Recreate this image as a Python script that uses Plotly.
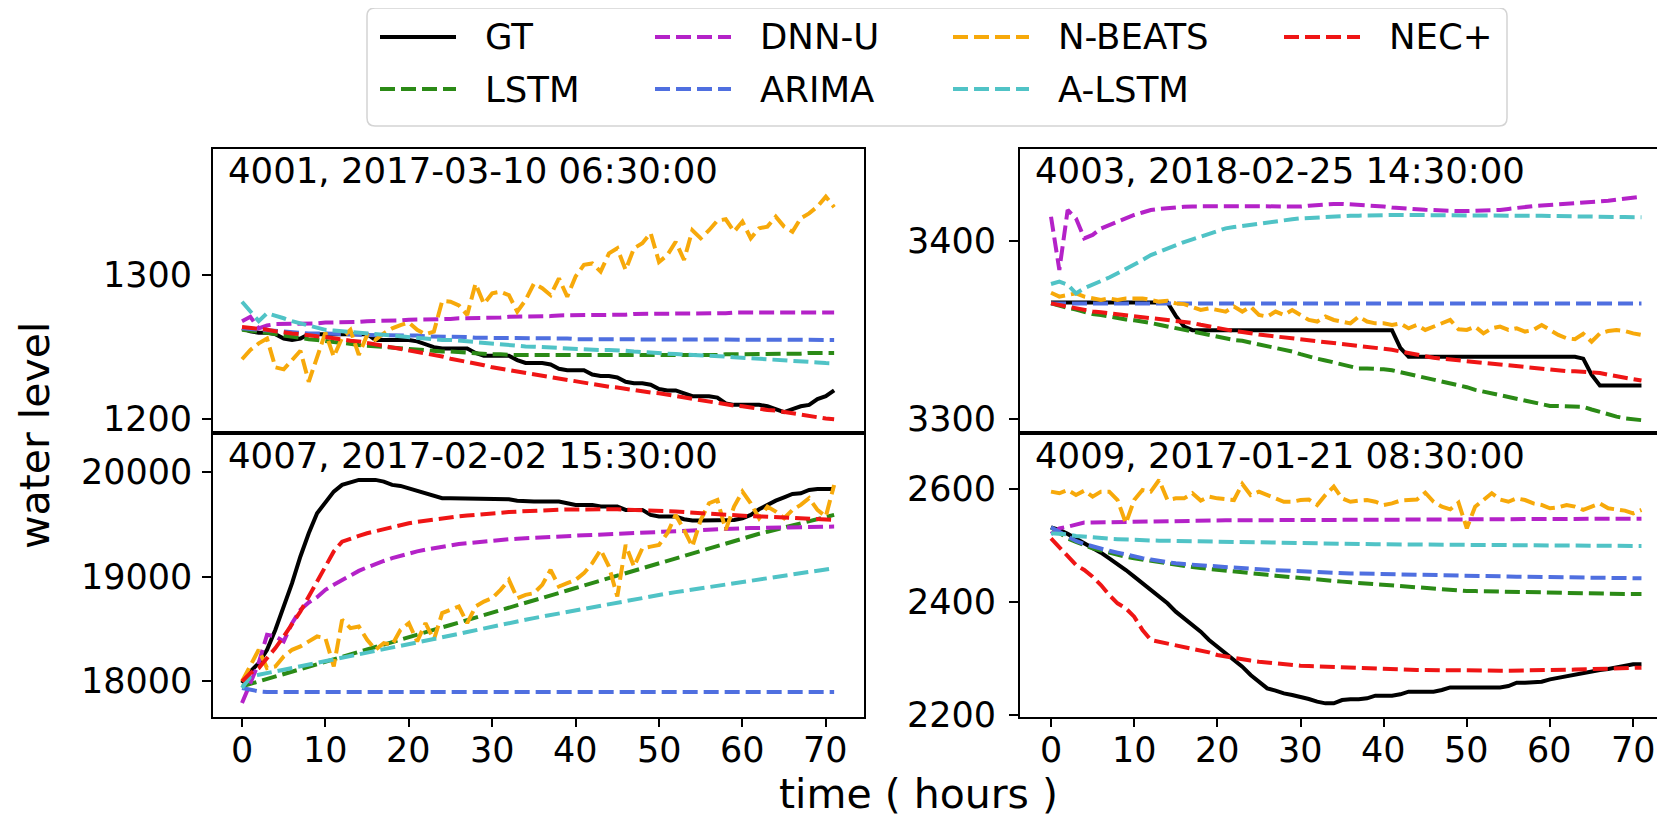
import plotly.graph_objects as go

W, H = 1665, 819
OFF = 8  # the page body adds an 8px margin; compensate so picture coords match
FW, FH = W - OFF, H - OFF

HOURS = list(range(72))
XTICKS = [0, 10, 20, 30, 40, 50, 60, 70]

SERIES = ["GT", "LSTM", "DNN-U", "ARIMA", "N-BEATS", "A-LSTM", "NEC+"]
COLORS = ["#000000", "#2b8a16", "#b422c8", "#4f6fe0", "#f7a90a", "#50c3c6", "#ef1515"]
DASHES = ["solid", "15px,6px", "15px,6px", "15px,6px", "15px,6px", "15px,6px", "15px,6px"]

TITLES = ["4001, 2017-03-10 06:30:00", "4003, 2018-02-25 14:30:00",
          "4007, 2017-02-02 15:30:00", "4009, 2017-01-21 08:30:00"]

YTICKS_4001 = [1200, 1300]
YTICKS_4003 = [3300, 3400]
YTICKS_4007 = [18000, 19000, 20000]
YTICKS_4009 = [2200, 2400, 2600]

# ---------------- station 4001 ----------------
GT_4001 = [1263, 1261, 1260, 1260, 1259, 1256, 1255, 1256, 1259, 1259,
           1259, 1259, 1259, 1259, 1259, 1259, 1255, 1255, 1255, 1255,
           1255, 1254, 1252, 1250, 1249, 1249, 1249, 1249, 1246, 1244,
           1244, 1244, 1244, 1241, 1239, 1239, 1239, 1238, 1235, 1234,
           1234, 1234, 1231, 1230, 1230, 1229, 1226, 1225, 1225, 1224,
           1221, 1220, 1220, 1218, 1216, 1216, 1216, 1215, 1211, 1210,
           1210, 1210, 1210, 1209, 1207, 1205, 1207, 1209, 1210, 1214,
           1216, 1220]
LSTM_4001 = [1262, 1261.5, 1260.5, 1260, 1259, 1258, 1257, 1256.5, 1255.5, 1255,
             1254, 1253.5, 1253, 1252, 1251.5, 1251, 1250.5, 1250, 1249.5, 1249,
             1249, 1248.5, 1248, 1247.5, 1247, 1247, 1246.5, 1246, 1245.5, 1245,
             1245, 1245, 1244.5, 1244.5, 1244.5, 1244.5, 1244, 1244, 1244, 1244,
             1244, 1244, 1244, 1244, 1244, 1244, 1244, 1244, 1244, 1244,
             1244, 1244, 1244, 1244.5, 1244.5, 1244.5, 1244.5, 1244.5, 1245, 1245,
             1245, 1245, 1245, 1245.5, 1245.5, 1245.5, 1245.5, 1245.5, 1246, 1246,
             1246, 1246]
DNNU_4001 = [1268, 1271, 1263, 1265, 1266, 1266, 1266, 1266.5, 1266.5, 1266.5,
             1267, 1267, 1267, 1267.5, 1267.5, 1268, 1268, 1268, 1268.5, 1268.5,
             1269, 1269, 1269, 1269.5, 1269.5, 1269.5, 1270, 1270, 1270, 1270.5,
             1270.5, 1270.5, 1271, 1271, 1271, 1271.5, 1271.5, 1271.5, 1272, 1272,
             1272, 1272, 1272, 1272.5, 1272.5, 1272.5, 1272.5, 1273, 1273, 1273,
             1273, 1273, 1273, 1273.5, 1273.5, 1273.5, 1273.5, 1273.5, 1273.5, 1274,
             1274, 1274, 1274, 1274, 1274, 1274, 1274, 1274, 1274, 1274,
             1274, 1274]
ARIMA_4001 = [1263, 1262.5, 1262, 1261.5, 1261, 1260.5, 1260, 1260, 1259.5, 1259.5,
              1259.5, 1259, 1259, 1259, 1258.5, 1258.5, 1258.5, 1258.5, 1258, 1258,
              1258, 1258, 1257.5, 1257.5, 1257, 1257, 1257, 1257, 1256.5, 1256.5,
              1256.5, 1256.5, 1256.5, 1256, 1256, 1256, 1256, 1256, 1256, 1256,
              1255.5, 1255.5, 1255.5, 1255.5, 1255.5, 1255.5, 1255.5, 1255.5, 1255.5, 1255.5,
              1255, 1255, 1255, 1255, 1255, 1255, 1255, 1255, 1255, 1255,
              1255, 1255, 1255, 1255, 1255, 1255, 1255, 1255, 1255, 1255,
              1255, 1255]
NBEATS_4001 = [1241.6, 1248, 1252.6, 1256, 1236, 1234.6, 1241, 1247.5, 1226, 1243.4,
               1260, 1243.4, 1256.5, 1262, 1244.6, 1258.5, 1255, 1259.6, 1263, 1265.3,
               1267, 1262, 1259, 1260.7, 1282, 1281.5, 1279, 1272.3, 1294, 1280,
               1287.3, 1288.4, 1286, 1274.6, 1282.6, 1294, 1290.8, 1286, 1297.7, 1285,
               1299, 1307, 1308, 1302.3, 1315, 1318.5, 1303.5, 1318.5, 1322, 1329,
               1309, 1313.8, 1323, 1310.4, 1331, 1325.4, 1331, 1337.7, 1338.6, 1330,
               1337, 1325.4, 1332.4, 1333.5, 1340.4, 1333.5, 1330, 1339.3, 1342.7, 1347.4,
               1354.3, 1347]
ALSTM_4001 = [1281.5, 1274.5, 1268, 1273.5, 1272, 1270, 1268, 1266.5, 1265, 1263.5,
              1262, 1261.5, 1261, 1260.5, 1259.5, 1259, 1258.5, 1258, 1257.5, 1257,
              1256.5, 1256, 1256, 1255.5, 1255, 1255, 1254.5, 1254, 1253, 1252.5,
              1252, 1251.5, 1251, 1250.5, 1250.5, 1250.3, 1250, 1249.5, 1249, 1248.8,
              1248.5, 1248.3, 1248, 1248, 1248, 1248, 1247.5, 1247, 1246.5, 1246,
              1245.8, 1245.5, 1245.2, 1245, 1244.8, 1244.6, 1244.2, 1244, 1243.5, 1243,
              1242.7, 1242.3, 1242, 1241.7, 1241.3, 1241, 1240.6, 1240.2, 1239.8, 1239.4,
              1239, 1238.8]
NEC_4001 = [1264, 1263.5, 1263, 1262, 1261, 1260, 1259.5, 1259, 1258, 1257.5,
            1257, 1256, 1255.5, 1254.5, 1254, 1253, 1252, 1251, 1250, 1249,
            1248, 1247, 1246, 1245, 1243.5, 1242, 1241, 1240, 1239, 1237.5,
            1236, 1235, 1234, 1233, 1232, 1231, 1230, 1229, 1228, 1227,
            1226, 1225, 1224, 1223, 1222.5, 1222, 1221, 1220, 1219, 1218.5,
            1218, 1217, 1216, 1215, 1214, 1213, 1212, 1211, 1210, 1209.5,
            1209, 1208, 1207, 1206.5, 1206, 1205, 1204, 1203, 1202, 1201,
            1200.5, 1200]

# ---------------- station 4003 ----------------
GT_4003 = [3365.5, 3365.5, 3365.5, 3365.5, 3365.5, 3365.5, 3365.5, 3365.5, 3365.5, 3365.5,
           3365.5, 3365.5, 3365.5, 3365.5, 3365.5, 3358, 3352, 3350, 3350, 3350,
           3350, 3350, 3350, 3350, 3350, 3350, 3350, 3350, 3350, 3350,
           3350, 3350, 3350, 3350, 3350, 3350, 3350, 3350, 3350, 3350,
           3350, 3350, 3340, 3335, 3335, 3335, 3335, 3335, 3335, 3335,
           3335, 3335, 3335, 3335, 3335, 3335, 3335, 3335, 3335, 3335,
           3335, 3335, 3335, 3335, 3334, 3325, 3319, 3319, 3319, 3319,
           3319, 3319]
LSTM_4003 = [3365, 3363.5, 3362.5, 3361.5, 3360, 3359, 3358.5, 3357.5, 3357, 3356,
             3355.5, 3355, 3354, 3353, 3352, 3351, 3350, 3349, 3348, 3347,
             3346, 3345, 3344.5, 3344, 3343, 3342, 3341.5, 3340.5, 3339, 3338,
             3336.5, 3335, 3334, 3333, 3332, 3330.5, 3329.5, 3328.5, 3328.5, 3328.5,
             3328, 3327.5, 3326.5, 3325.5, 3324.5, 3323.5, 3322.5, 3321, 3320, 3319,
             3318, 3316.5, 3315.5, 3314.5, 3313, 3312, 3311, 3310, 3309, 3308,
             3307.5, 3307.5, 3307.5, 3307.5, 3307, 3305.5, 3304, 3302.5, 3301.5, 3300.5,
             3300, 3299.5]
DNNU_4003 = [3413.6, 3383.7, 3417.4, 3412.7, 3401.5, 3403.4, 3407, 3409, 3410.8, 3413,
             3414.6, 3416, 3417.4, 3418, 3418.5, 3418.9, 3419.2, 3419.4, 3419.5, 3419.6,
             3419.6, 3419.6, 3419.6, 3419.5, 3419.5, 3419.4, 3419.4, 3419.3, 3419.3, 3419.3,
             3419.3, 3419.8, 3420.3, 3420.8, 3420.8, 3420.8, 3420.6, 3420.5, 3420.2, 3420,
             3419.4, 3418.8, 3418.3, 3418, 3417.8, 3417.5, 3417.2, 3417, 3416.8, 3416.8,
             3416.8, 3416.9, 3417, 3417.2, 3417.4, 3418, 3418.6, 3419.3, 3419.6, 3419.9,
             3420.2, 3420.5, 3420.8, 3421.2, 3421.5, 3421.9, 3422.2, 3422.6, 3423.2, 3423.8,
             3424.3, 3424.9]
ARIMA_4003 = [3365, 3365, 3365, 3365, 3365, 3365, 3365, 3365, 3365, 3365,
              3365, 3365, 3365, 3365, 3365, 3365, 3365, 3365, 3365, 3365,
              3365, 3365, 3365, 3365, 3365, 3365, 3365, 3365, 3365, 3365,
              3365, 3365, 3365, 3365, 3365, 3365, 3365, 3365, 3365, 3365,
              3365, 3365, 3365, 3365, 3365, 3365, 3365, 3365, 3365, 3365,
              3365, 3365, 3365, 3365, 3365, 3365, 3365, 3365, 3365, 3365,
              3365, 3365, 3365, 3365, 3365, 3365, 3365, 3365, 3365, 3365,
              3365, 3365]
NBEATS_4003 = [3371, 3368.8, 3369.7, 3370.6, 3368.8, 3367.8, 3366.9, 3367.8, 3366.9, 3367.8,
               3367.8, 3367.8, 3366.9, 3366, 3366.5, 3365, 3364.6, 3363.2, 3361.3, 3362.2,
               3361.3, 3360.4, 3363.2, 3360.4, 3363.2, 3358.5, 3357.6, 3360.4, 3358.5, 3361.3,
               3358.5, 3355.7, 3354.8, 3357.6, 3355.7, 3354.8, 3353.8, 3357.6, 3354.8, 3353.8,
               3353.8, 3352.9, 3353.8, 3351, 3352.9, 3350.1, 3352, 3354.2, 3355.7, 3350.5,
               3350.1, 3352, 3348.2, 3351, 3352, 3350.1, 3351, 3349.2, 3350.1, 3352.9,
               3350.1, 3347.3, 3345.4, 3344.9, 3347.9, 3343.5, 3348.2, 3349.5, 3350.1, 3349.5,
               3348.2, 3347.3]
ALSTM_4003 = [3375.9, 3377.2, 3375.5, 3370.6, 3373.5, 3375.4, 3377.2, 3379.5, 3381.9, 3384.2,
              3386.5, 3389.3, 3392.1, 3394, 3396, 3397.8, 3399.4, 3400.9, 3402.4, 3404,
              3405.5, 3407.1, 3407.8, 3408.5, 3409.2, 3409.9, 3410.5, 3411.1, 3411.6, 3412.2,
              3412.7, 3413, 3413.3, 3413.5, 3413.8, 3414, 3414.1, 3414.2, 3414.4, 3414.5,
              3414.6, 3414.6, 3414.6, 3414.6, 3414.6, 3414.6, 3414.6, 3414.6, 3414.6, 3414.6,
              3414.6, 3414.5, 3414.5, 3414.4, 3414.4, 3414.3, 3414.2, 3414.2, 3414.1, 3414.1,
              3414, 3414, 3413.9, 3413.9, 3413.8, 3413.7, 3413.7, 3413.6, 3413.5, 3413.4,
              3413.4, 3413.3]
NEC_4003 = [3365, 3364, 3363, 3362.5, 3361.5, 3360.5, 3360, 3359.5, 3359, 3358.5,
            3358, 3357.5, 3357, 3356, 3355.5, 3355, 3354.5, 3354, 3353, 3352,
            3351, 3350, 3349.5, 3349, 3348, 3347.5, 3347, 3346.5, 3346, 3345.5,
            3345, 3344.5, 3344, 3343.5, 3343, 3342.5, 3342, 3341.5, 3341, 3340,
            3339.5, 3339, 3338, 3337, 3336, 3335, 3334.5, 3334, 3333.5, 3333,
            3332.5, 3332, 3331.5, 3331, 3330.5, 3330, 3329.5, 3329, 3328.5, 3328,
            3327.5, 3327.5, 3327, 3327, 3326.7, 3326.5, 3326, 3325, 3324, 3323,
            3322.5, 3321.7]

# ---------------- station 4007 ----------------
GT_4007 = [17977, 18089, 18169, 18297, 18489, 18712, 18936, 19192, 19415, 19607,
           19719, 19815, 19879, 19904, 19927, 19927, 19927, 19911, 19879, 19869,
           19847, 19821, 19799, 19773, 19751, 19751, 19750, 19749, 19748, 19747,
           19745, 19743, 19741, 19728, 19719, 19719, 19719, 19719, 19719, 19703,
           19687, 19687, 19687, 19671, 19671, 19671, 19639, 19639, 19639, 19591,
           19575, 19575, 19575, 19550, 19537, 19537, 19537, 19537, 19537, 19543,
           19559, 19591, 19645, 19687, 19728, 19760, 19792, 19799, 19831, 19840,
           19840, 19840]
LSTM_4007 = [17946, 17970, 17993, 18017, 18040, 18063, 18087, 18110, 18133, 18157,
             18180, 18204, 18228, 18252, 18276, 18300, 18324, 18348, 18372, 18396,
             18420, 18443, 18466, 18489, 18512, 18535, 18558, 18581, 18604, 18627,
             18650, 18674, 18698, 18722, 18746, 18770, 18794, 18818, 18842, 18866,
             18890, 18914, 18938, 18962, 18986, 19010, 19034, 19058, 19082, 19106,
             19130, 19154, 19178, 19202, 19226, 19250, 19274, 19298, 19322, 19346,
             19370, 19390, 19410, 19430, 19450, 19470, 19490, 19510, 19530, 19550,
             19570, 19591]
DNNU_4007 = [17786, 17977, 18169, 18441, 18425, 18377, 18553, 18680, 18751, 18802,
             18872, 18920, 18968, 19011, 19054, 19088, 19121, 19149, 19176, 19200,
             19224, 19241, 19257, 19273, 19288, 19303, 19312, 19320, 19329, 19337,
             19345, 19351, 19357, 19363, 19368, 19374, 19378, 19382, 19386, 19390,
             19393, 19396, 19399, 19403, 19406, 19409, 19412, 19414, 19417, 19419,
             19422, 19427, 19432, 19437, 19442, 19447, 19450, 19453, 19457, 19460,
             19463, 19465, 19467, 19469, 19471, 19473, 19474, 19475, 19476, 19477,
             19478, 19479]
ARIMA_4007 = [17930, 17914, 17898, 17892, 17891, 17891, 17891, 17891, 17891, 17891,
              17891, 17891, 17891, 17891, 17891, 17891, 17891, 17891, 17891, 17891,
              17891, 17891, 17891, 17891, 17891, 17891, 17891, 17891, 17891, 17891,
              17891, 17891, 17891, 17891, 17891, 17891, 17891, 17891, 17891, 17891,
              17891, 17891, 17891, 17891, 17891, 17891, 17891, 17891, 17891, 17891,
              17891, 17891, 17891, 17891, 17891, 17891, 17891, 17891, 17891, 17891,
              17891, 17891, 17891, 17891, 17891, 17891, 17891, 17891, 17891, 17891,
              17891, 17891]
NBEATS_4007 = [17993, 18137, 18297, 18121, 18137, 18233, 18297, 18329, 18377, 18425,
               18409, 18137, 18585, 18505, 18521, 18393, 18297, 18361, 18345, 18489,
               18553, 18377, 18553, 18393, 18649, 18680, 18712, 18553, 18712, 18760,
               18792, 18872, 18968, 18792, 18824, 18840, 18920, 19064, 18904, 18936,
               18968, 19032, 19128, 19256, 19096, 18808, 19303, 19096, 19271, 19287,
               19303, 19415, 19591, 19447, 19287, 19543, 19703, 19735, 19447, 19671,
               19815, 19703, 19559, 19671, 19623, 19559, 19639, 19687, 19751, 19639,
               19575, 19879]
ALSTM_4007 = [17930, 18041, 18057, 18073, 18089, 18105, 18121, 18137, 18153, 18169,
              18185, 18201, 18217, 18233, 18249, 18265, 18281, 18297, 18313, 18329,
              18345, 18363, 18380, 18398, 18415, 18433, 18450, 18468, 18486, 18503,
              18521, 18537, 18553, 18569, 18585, 18601, 18616, 18632, 18648, 18664,
              18680, 18694, 18709, 18723, 18738, 18752, 18767, 18781, 18796, 18810,
              18824, 18837, 18850, 18862, 18875, 18888, 18901, 18914, 18926, 18939,
              18952, 18964, 18975, 18987, 18999, 19010, 19022, 19034, 19045, 19057,
              19068, 19080]
NEC_4007 = [17993, 18073, 18121, 18217, 18313, 18425, 18537, 18664, 18808, 18952,
            19096, 19240, 19335, 19367, 19390, 19415, 19436, 19457, 19476, 19494,
            19511, 19524, 19536, 19548, 19559, 19569, 19577, 19585, 19593, 19600,
            19607, 19613, 19618, 19623, 19628, 19633, 19636, 19639, 19641, 19643,
            19645, 19646, 19646, 19646, 19645, 19645, 19643, 19641, 19638, 19636,
            19633, 19628, 19623, 19618, 19612, 19607, 19602, 19597, 19591, 19586,
            19581, 19579, 19577, 19574, 19572, 19569, 19566, 19560, 19555, 19550,
            19546, 19543]

# ---------------- station 4009 ----------------
GT_4009 = [2532.6, 2528, 2521, 2513, 2504, 2495.4, 2487.7, 2477.7, 2467.7, 2457,
           2445.2, 2433.4, 2421.6, 2409.8, 2398, 2383.2, 2371.4, 2359.6, 2347.7, 2333,
           2321, 2309.3, 2297.5, 2285.7, 2271, 2259, 2247.2, 2243.2, 2238.4, 2235.5,
           2232.5, 2228.4, 2223.7, 2220.7, 2220.7, 2226.6, 2227.8, 2227.8, 2229.6, 2234.3,
           2234.3, 2234.3, 2236.7, 2241.4, 2241.4, 2241.4, 2241.4, 2244.3, 2249, 2249,
           2249, 2249, 2249, 2249, 2249, 2251.4, 2257.3, 2257.3, 2257.3, 2259,
           2263.2, 2266.2, 2268, 2270.9, 2273.9, 2276.8, 2279.8, 2281.6, 2284, 2286.9,
           2289.8, 2289.8]
LSTM_4009 = [2532.6, 2523.8, 2513, 2507, 2501, 2495.4, 2491.5, 2487.5, 2483.6, 2480.6,
             2477.7, 2475.3, 2473, 2470.6, 2468.2, 2465.9, 2464, 2462.3, 2460.5, 2458.8,
             2457, 2455.6, 2454.2, 2452.8, 2451.4, 2450, 2448.5, 2446.9, 2445.4, 2443.8,
             2442.3, 2441.1, 2439.9, 2438.8, 2437.6, 2436.4, 2435.2, 2434, 2432.8, 2431.6,
             2430.4, 2429.2, 2428, 2426.9, 2425.7, 2424.5, 2423.6, 2422.6, 2421.7, 2420.7,
             2419.8, 2419.6, 2419.3, 2419.1, 2418.8, 2418.6, 2418, 2417.5, 2416.9, 2416.3,
             2415.7, 2415.5, 2415.2, 2415, 2414.7, 2414.5, 2414.5, 2414.5, 2414.5, 2414.5,
             2414.5, 2414.5]
DNNU_4009 = [2520.8, 2530.9, 2533.8, 2536.8, 2541, 2541.2, 2541.5, 2542, 2542.5, 2542.9,
             2543.3, 2543.5, 2543.7, 2543.9, 2544, 2544.2, 2544.4, 2544.5, 2544.7, 2544.8,
             2545, 2545.1, 2545.1, 2545.2, 2545.3, 2545.3, 2545.4, 2545.5, 2545.5, 2545.6,
             2545.6, 2545.7, 2545.8, 2545.9, 2546, 2546.1, 2546.3, 2546.4, 2546.6, 2546.7,
             2546.8, 2546.8, 2546.8, 2546.8, 2546.8, 2546.8, 2546.9, 2546.9, 2547, 2547,
             2547, 2547, 2547.1, 2547.1, 2547.2, 2547.2, 2547.3, 2547.3, 2547.3, 2547.4,
             2547.4, 2547.5, 2547.5, 2547.6, 2547.6, 2547.7, 2547.7, 2547.8, 2547.8, 2547.9,
             2547.9, 2548]
ARIMA_4009 = [2532.6, 2525, 2516, 2508.4, 2503, 2498.4, 2494.5, 2491, 2487.7, 2484,
              2480.7, 2478, 2475.5, 2473, 2470.8, 2468.8, 2467.5, 2466.3, 2465.1, 2464,
              2463, 2462, 2461, 2460, 2459.1, 2458.2, 2457.4, 2456.6, 2455.8, 2455,
              2454.1, 2453.5, 2452.9, 2452.3, 2451.7, 2451.1, 2450.9, 2450.7, 2450.5, 2450.2,
              2450, 2449.7, 2449.4, 2449.1, 2448.8, 2448.5, 2448.2, 2447.9, 2447.6, 2447.3,
              2447, 2446.7, 2446.4, 2446.1, 2445.8, 2445.5, 2445.2, 2444.9, 2444.6, 2444.3,
              2444, 2443.8, 2443.7, 2443.5, 2443.3, 2443.2, 2443, 2442.8, 2442.7, 2442.5,
              2442.4, 2442.3]
NBEATS_4009 = [2595.9, 2593, 2598.8, 2590, 2597.6, 2587, 2595.9, 2595.9, 2581, 2539.7,
               2581, 2598.8, 2595.9, 2616.5, 2581, 2584, 2584, 2593, 2580, 2587,
               2584, 2582, 2581, 2609.5, 2590, 2595.9, 2590, 2585.8, 2578, 2578,
               2581, 2582, 2572.2, 2590, 2604.7, 2584, 2578, 2580, 2581, 2578,
               2572.2, 2575, 2580, 2581, 2582, 2594, 2578, 2569.3, 2564.6, 2576.4,
               2530.9, 2569.3, 2582, 2593, 2582, 2578, 2584, 2581, 2575, 2572.2,
               2566.3, 2568, 2572.2, 2569.3, 2563.4, 2569.3, 2575, 2566.3, 2563.4, 2562.2,
               2557.5, 2563.4]
ALSTM_4009 = [2522, 2521.5, 2520, 2517.3, 2515.8, 2514.3, 2513.4, 2512.5, 2511.7, 2510.8,
              2510, 2509.7, 2509.4, 2509, 2508.7, 2508.4, 2508, 2507.7, 2507.4, 2507,
              2506.7, 2506.5, 2506.2, 2506, 2505.8, 2505.5, 2505.3, 2505, 2504.8, 2504.5,
              2504.3, 2504.1, 2503.9, 2503.7, 2503.5, 2503.4, 2503.2, 2503, 2502.8, 2502.6,
              2502.5, 2502.4, 2502.3, 2502.1, 2502, 2501.9, 2501.8, 2501.6, 2501.5, 2501.4,
              2501.3, 2501.2, 2501, 2500.9, 2500.8, 2500.7, 2500.5, 2500.4, 2500.3, 2500.1,
              2500, 2500, 2499.9, 2499.9, 2499.8, 2499.8, 2499.7, 2499.7, 2499.7, 2499.6,
              2499.6, 2499.6]
NEC_4009 = [2513, 2498, 2480.7, 2466, 2457, 2445, 2430.4, 2412.7, 2398, 2389,
            2374.3, 2350.7, 2333, 2330, 2327, 2324, 2321, 2318, 2315, 2311,
            2306.4, 2303.5, 2300.5, 2298.5, 2296.5, 2294.6, 2293, 2291.5, 2290, 2288.8,
            2287.5, 2286.9, 2286.3, 2285.7, 2285.1, 2284.5, 2283.8, 2283.1, 2282.4, 2281.7,
            2281, 2280.8, 2280.5, 2280.3, 2280, 2279.8, 2279.5, 2279.3, 2279, 2278.8,
            2278.6, 2278.6, 2278.6, 2278.6, 2278.6, 2278.6, 2278.6, 2278.6, 2278.6, 2278.6,
            2279.8, 2280, 2280.3, 2280.5, 2280.8, 2281, 2281.5, 2282, 2282.5, 2283,
            2283.5, 2284]

PANEL_DATA = [
    [GT_4001, LSTM_4001, DNNU_4001, ARIMA_4001, NBEATS_4001, ALSTM_4001, NEC_4001],
    [GT_4003, LSTM_4003, DNNU_4003, ARIMA_4003, NBEATS_4003, ALSTM_4003, NEC_4003],
    [GT_4007, LSTM_4007, DNNU_4007, ARIMA_4007, NBEATS_4007, ALSTM_4007, NEC_4007],
    [GT_4009, LSTM_4009, DNNU_4009, ARIMA_4009, NBEATS_4009, ALSTM_4009, NEC_4009],
]
PANEL_YTICKS = [YTICKS_4001, YTICKS_4003, YTICKS_4007, YTICKS_4009]


def px(x):
    return (x - OFF) / FW


def py(y):
    return 1 - (y - OFF) / FH


# layout geometry (picture pixels)
LEFT_X = (213, 864)
RIGHT_X = (1020, 1665)
TOP_Y = (149, 433)
BOT_Y = (433, 717)
PANEL_BOX = [(LEFT_X, TOP_Y), (RIGHT_X, TOP_Y), (LEFT_X, BOT_Y), (RIGHT_X, BOT_Y)]
XRANGES = [[-3.48, 74.58], [-3.73, 73.83], [-3.48, 74.58], [-3.73, 73.83]]
YRANGES = [[1190.5, 1387.3], [3292.3, 3451.6], [17652, 20377], [2196.5, 2699.8]]
TITLE_POS = [(227, 171), (1034, 171), (227, 455), (1034, 455)]
YLABEL_RIGHT = [193, 997, 193, 997]
XLABEL_Y = 750

FONT = "DejaVu Sans"
TICK_SIZE = 35
TEXT_SIZE = 35.5
LABEL_SIZE = 41
LW = 4.0
SPINE = 2

fig = go.Figure()

for p in range(4):
    xa = "x" if p == 0 else f"x{p + 1}"
    ya = "y" if p == 0 else f"y{p + 1}"
    for s, name in enumerate(SERIES):
        vals = PANEL_DATA[p][s]
        fig.add_trace(go.Scatter(
            x=HOURS[:len(vals)], y=vals, mode="lines", name=name,
            line=dict(color=COLORS[s], width=LW, dash=DASHES[s]),
            xaxis=xa, yaxis=ya, showlegend=False,
            legendgroup=name,
        ))

layout = dict(
    width=FW, height=FH,
    margin=dict(l=0, r=0, t=0, b=0),
    paper_bgcolor="white", plot_bgcolor="white",
    font=dict(family=FONT, size=TICK_SIZE, color="black"),
    showlegend=False,
)

annotations = []
for p in range(4):
    (x0, x1), (y0, y1) = PANEL_BOX[p]
    xkey = "xaxis" if p == 0 else f"xaxis{p + 1}"
    ykey = "yaxis" if p == 0 else f"yaxis{p + 1}"
    xref = "x" if p == 0 else f"x{p + 1}"
    yref = "y" if p == 0 else f"y{p + 1}"
    bottom = p >= 2
    left = p % 2 == 0
    layout[xkey] = dict(
        domain=[max(0.0, px(x0)), min(1.0, px(x1))],
        range=XRANGES[p],
        anchor=yref,
        showgrid=False, zeroline=False,
        showline=True, linecolor="black", linewidth=SPINE, mirror=True,
        tickmode="array", tickvals=XTICKS if bottom else [],
        ticks="outside" if bottom else "", ticklen=8, tickwidth=SPINE, tickcolor="black",
        showticklabels=False,
    )
    layout[ykey] = dict(
        domain=[py(y1), py(y0)],
        range=YRANGES[p],
        anchor=xref,
        showgrid=False, zeroline=False,
        showline=True, linecolor="black", linewidth=SPINE, mirror=left,
        tickmode="array", tickvals=PANEL_YTICKS[p],
        ticks="outside", ticklen=9, tickwidth=SPINE, tickcolor="black",
        showticklabels=False,
    )
    # tick labels
    for v in PANEL_YTICKS[p]:
        annotations.append(dict(
            x=px(YLABEL_RIGHT[p]), y=v, xref="paper", yref=yref,
            xanchor="right", yanchor="middle", showarrow=False, borderpad=0,
            text=str(v), font=dict(family=FONT, size=TICK_SIZE, color="black"),
        ))
    if bottom:
        for v in XTICKS:
            annotations.append(dict(
                x=v, y=py(XLABEL_Y), xref=xref, yref="paper",
                xanchor="center", yanchor="middle", showarrow=False, borderpad=0,
                text=str(v), font=dict(family=FONT, size=TICK_SIZE, color="black"),
            ))

for p in range(4):
    tx, ty = TITLE_POS[p]
    annotations.append(dict(
        x=px(tx), y=py(ty), xref="paper", yref="paper",
        xanchor="left", yanchor="middle", showarrow=False, borderpad=0,
        text=TITLES[p], font=dict(family=FONT, size=TEXT_SIZE, color="black"),
    ))

annotations.append(dict(
    x=px(35), y=py(436), xref="paper", yref="paper", textangle=-90,
    xanchor="center", yanchor="middle", showarrow=False,
    text="water level", font=dict(family=FONT, size=LABEL_SIZE, color="black"),
))
annotations.append(dict(
    x=px(918), y=py(794), xref="paper", yref="paper",
    xanchor="center", yanchor="middle", showarrow=False, borderpad=0,
    text="time ( hours )", font=dict(family=FONT, size=LABEL_SIZE, color="black"),
))

# legend (manual, matplotlib-style 4 columns x 2 rows)
LEG_COL_X = [380, 655, 953, 1284]
LEG_ROW_Y = [37, 89]
LEG_LINE_LEN = 76
LEG_TEXT_GAP = 28
shapes = []
bx0, bx1, by0, by1 = 367, 1507, 7, 126
r = 8
X0, X1, Y0, Y1 = px(bx0), px(bx1), py(by1), min(1.0, py(by0))
rx, ry = r / FW, r / FH
path = (f"M {X0 + rx},{Y1} L {X1 - rx},{Y1} Q {X1},{Y1} {X1},{Y1 - ry} "
        f"L {X1},{Y0 + ry} Q {X1},{Y0} {X1 - rx},{Y0} L {X0 + rx},{Y0} "
        f"Q {X0},{Y0} {X0},{Y0 + ry} L {X0},{Y1 - ry} Q {X0},{Y1} {X0 + rx},{Y1} Z")
shapes.append(dict(type="path", path=path, xref="paper", yref="paper",
                   line=dict(color="#d4d4d4", width=1.5), fillcolor="white", layer="below"))

for s, name in enumerate(SERIES):
    col, row = s // 2, s % 2
    lx = LEG_COL_X[col]
    ly = LEG_ROW_Y[row]
    shapes.append(dict(type="line", xref="paper", yref="paper",
                       x0=px(lx), x1=px(lx + LEG_LINE_LEN), y0=py(ly), y1=py(ly),
                       line=dict(color=COLORS[s], width=LW, dash=DASHES[s])))
    annotations.append(dict(
        x=px(lx + LEG_LINE_LEN + LEG_TEXT_GAP), y=py(ly), xref="paper", yref="paper",
        xanchor="left", yanchor="middle", showarrow=False, borderpad=0,
        text=name, font=dict(family=FONT, size=TEXT_SIZE, color="black"),
    ))

layout["annotations"] = annotations
layout["shapes"] = shapes
fig.update_layout(**layout)

fig.write_html("out.html")
